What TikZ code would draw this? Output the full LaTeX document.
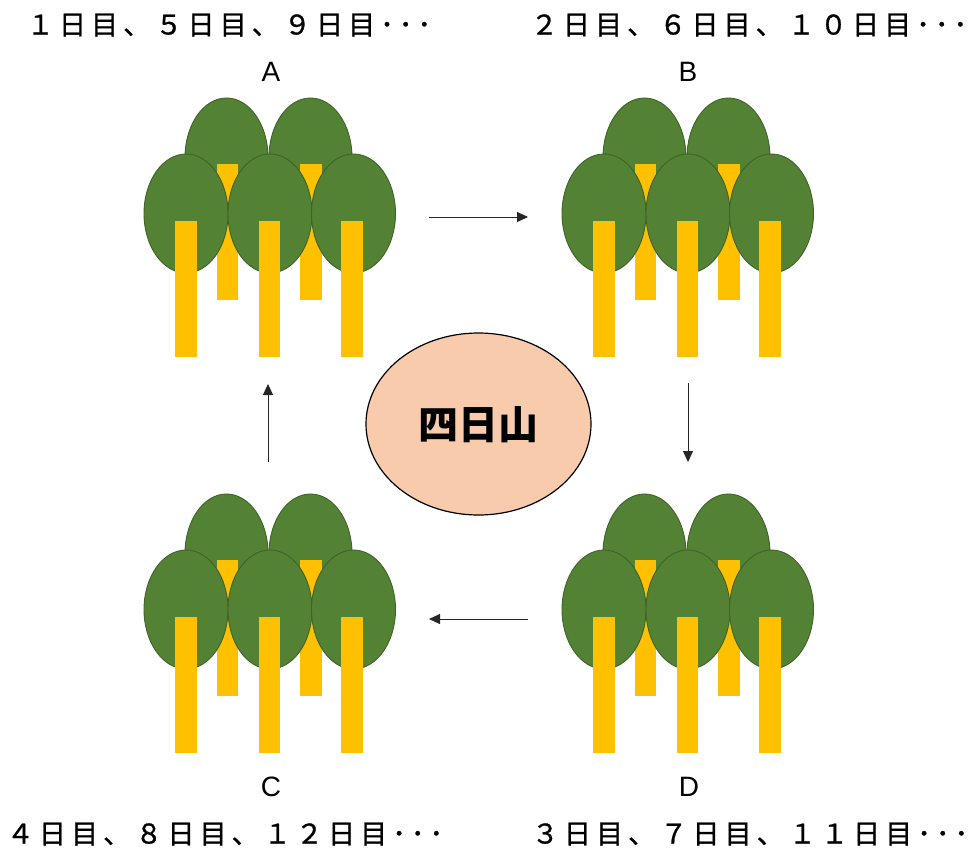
\documentclass[tikz,border=0pt]{standalone}
\usepackage{fontspec}
\usetikzlibrary{arrows.meta,shapes.geometric}
\setmainfont{Liberation Sans}
\newfontfamily\jpfont[LetterSpace=19, FakeBold=1]{Noto Sans CJK JP}
\newfontfamily\jpplain{Noto Sans CJK JP}
\definecolor{leaf}{HTML}{548235}
\definecolor{leafline}{HTML}{3F6228}
\definecolor{trunk}{HTML}{FFC000}
\definecolor{mountain}{HTML}{F8CBAD}
\tikzset{
  crown/.style={fill=leaf, draw=leafline, line width=0.9pt},
  stem/.style={fill=trunk, draw=none},
  flow/.style={draw=black!85, line width=1pt, -{Triangle[length=11pt,width=10pt]}},
  daytext/.style={font=\jpfont\fontsize{27}{30}\selectfont, inner sep=0pt},
  grovename/.style={font=\fontsize{28}{30}\selectfont, inner sep=0pt},
  grove/.pic={
    % back row of crowns and their trunks
    \path[crown] (226.5,157.5) ellipse[x radius=41.5, y radius=59.5];
    \path[crown] (310.5,157.5) ellipse[x radius=41.5, y radius=59.5];
    \path[stem] (217,164) rectangle (238,300);
    \path[stem] (300,164) rectangle (322,300);
    % front row of crowns and their trunks
    \path[crown] (186,213.5) ellipse[x radius=42, y radius=59.5];
    \path[crown] (270,213.5) ellipse[x radius=42, y radius=59.5];
    \path[crown] (353.5,213.5) ellipse[x radius=42, y radius=59.5];
    \path[stem] (175,221) rectangle (197,357);
    \path[stem] (259,221) rectangle (280,357);
    \path[stem] (341,221) rectangle (363,357);
  }
}
\begin{document}
\begin{tikzpicture}[x=1pt, y=-1pt]
  \path[use as bounding box, fill=white] (0,0) rectangle (969,852);

  % four groves
  \pic at (0,0) {grove};
  \pic at (418,0) {grove};
  \pic at (0,396) {grove};
  \pic at (418,396) {grove};

  % grove names
  \node[grovename] (nA) at (271,72) {A};
  \node[grovename] (nB) at (688,72) {B};
  \node[grovename] (nC) at (271,787) {C};
  \node[grovename] (nD) at (689,787) {D};

  % visiting days
  \node[daytext] (dA) at (229,25) {１日目、５日目、９日目･･･};
  \node[daytext] (dB) at (749,25) {２日目、６日目、１０日目･･･};
  \node[daytext] (dC) at (225,834) {４日目、８日目、１２日目･･･};
  \node[daytext] (dD) at (750,834) {３日目、７日目、１１日目･･･};

  % mountain in the middle
  \node[ellipse, draw=black, line width=1.2pt, fill=mountain,
        minimum width=225pt, minimum height=182pt, inner sep=0pt]
        (yama) at (478.5,424) {};
  \node[font=\jpplain\bfseries\fontsize{40}{44}\selectfont, inner sep=0pt]
        (yamaname) at (478.5,425) {四日山};

  % route A -> B -> D -> C -> A
  \coordinate (ab0) at (429,217);
  \coordinate (ab1) at (528,217);
  \coordinate (bd0) at (688,383);
  \coordinate (bd1) at (688,462);
  \coordinate (dc0) at (528,619);
  \coordinate (dc1) at (429,619);
  \coordinate (ca0) at (268,462);
  \coordinate (ca1) at (268,384);
  \draw[flow] (ab0) -- (ab1);
  \draw[flow] (bd0) -- (bd1);
  \draw[flow] (dc0) -- (dc1);
  \draw[flow] (ca0) -- (ca1);
\end{tikzpicture}
\end{document}
